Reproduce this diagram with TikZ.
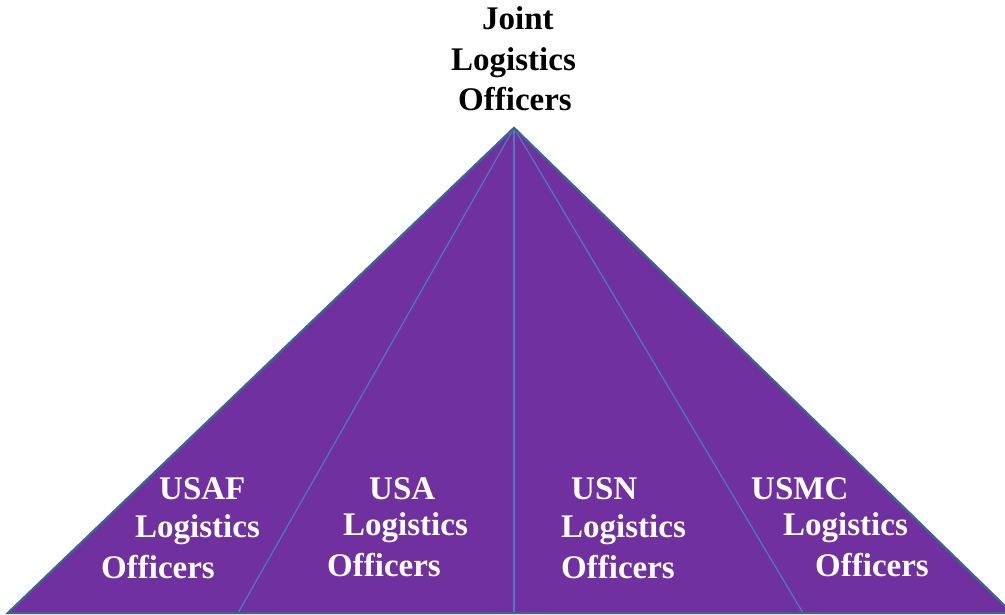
\documentclass[tikz,border=0pt]{standalone}
\usepackage{fontspec}
\setmainfont{Liberation Serif}
\definecolor{pyr}{HTML}{7030A0}
\definecolor{edgeblue}{HTML}{3F6390}
\definecolor{divblue}{HTML}{4A7EBB}
\begin{document}
\begin{tikzpicture}[x=1pt,y=-1pt,
  lbl/.style={anchor=base west,inner sep=0pt,font=\fontsize{33}{40}\selectfont\bfseries},
  wlbl/.style={lbl,text=white},
  divider/.style={draw=divblue,line width=1.2pt},
  outline/.style={draw=edgeblue,line width=2.4pt,line join=miter}]
\useasboundingbox (0,0) rectangle (1005,615);
\coordinate (apex) at (514,128);
\coordinate (bl) at (8,613);
\coordinate (br) at (1012,613);
\coordinate (d1) at (238,613);
\coordinate (d2) at (514,613);
\coordinate (d3) at (803,613);
\fill[pyr] (apex) -- (bl) -- (br) -- cycle;
\draw[divider] (apex) -- (d1);
\draw[divider] (apex) -- (d2);
\draw[divider] (apex) -- (d3);
\draw[outline] (apex) -- (bl) -- (br) -- cycle;
% top label
\node[lbl] (j1) at (482,30) {Joint};
\node[lbl] (j2) at (451,71) {Logistics};
\node[lbl] (j3) at (458,111) {Officers};
% USAF
\node[wlbl] (a1) at (159,499) {USAF};
\node[wlbl] (a2) at (135,537) {Logistics};
\node[wlbl] (a3) at (101,578) {Officers};
% USA
\node[wlbl] (b1) at (369,499) {USA};
\node[wlbl] (b2) at (343,535) {Logistics};
\node[wlbl] (b3) at (327,576) {Officers};
% USN
\node[wlbl] (c1) at (571,499) {USN};
\node[wlbl] (c2) at (561,537) {Logistics};
\node[wlbl] (c3) at (561,578) {Officers};
% USMC
\node[wlbl] (e1) at (751,499) {USMC};
\node[wlbl] (e2) at (783,535) {Logistics};
\node[wlbl] (e3) at (815,576) {Officers};
\end{tikzpicture}
\end{document}
